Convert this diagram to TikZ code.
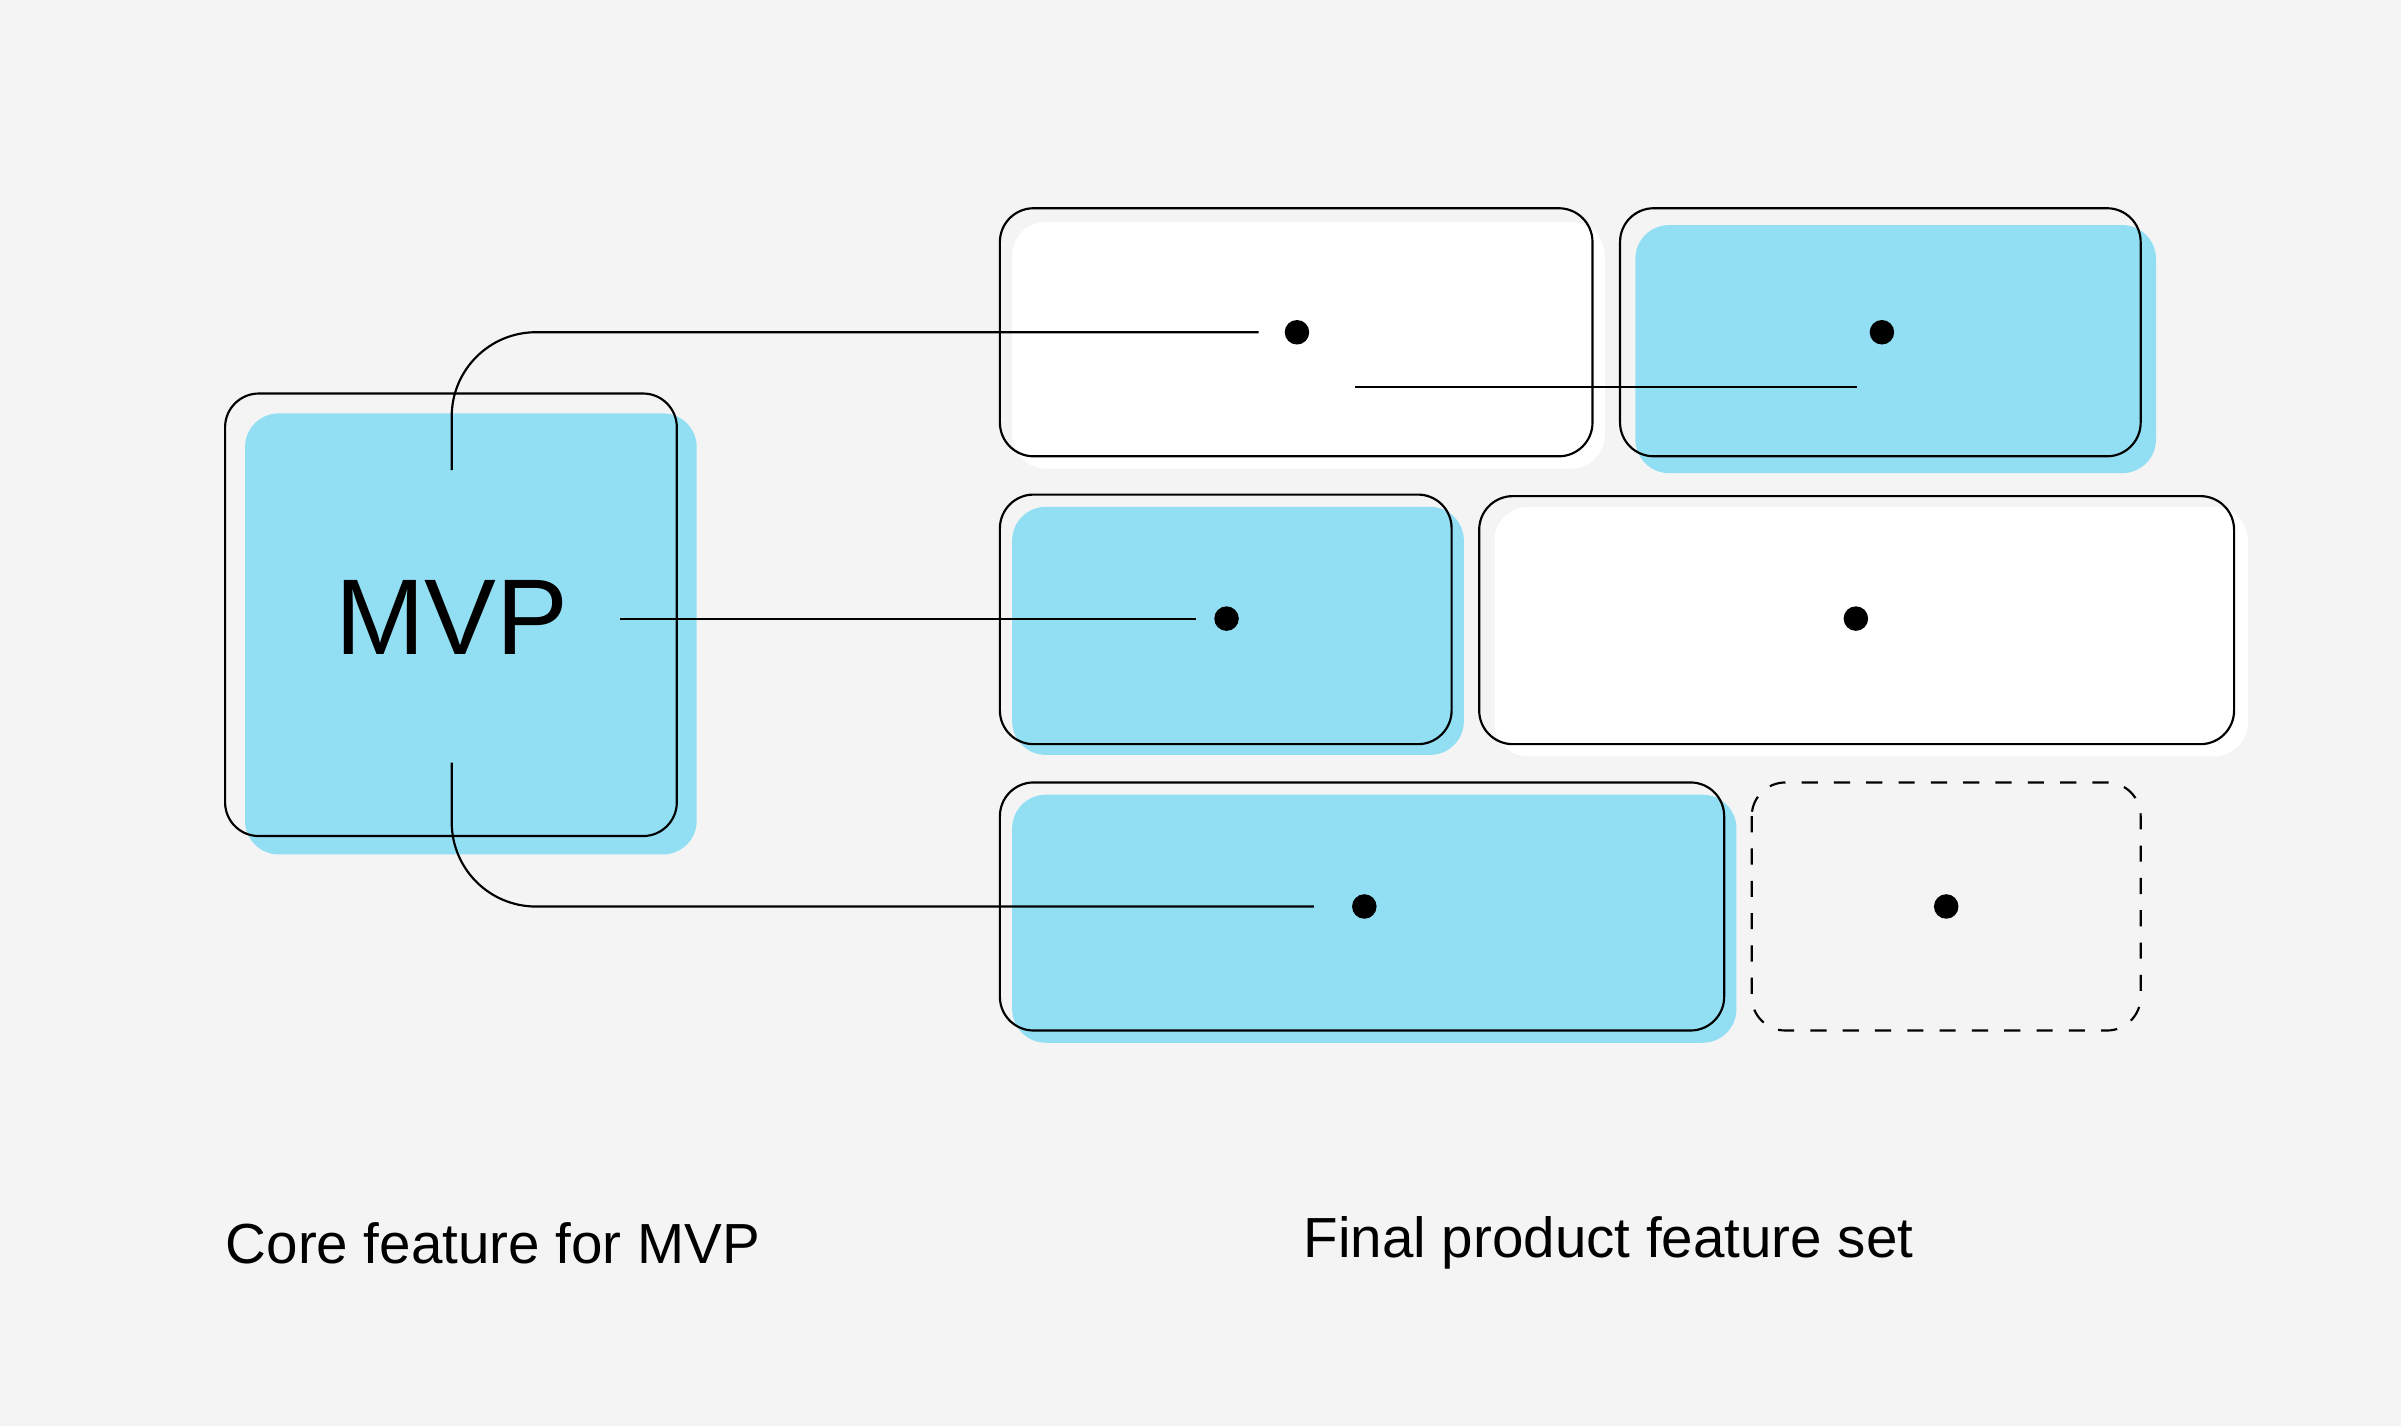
\documentclass[tikz,border=0pt]{standalone}
\usepackage{fontspec}
\setmainfont{Liberation Sans}
\definecolor{bgcol}{HTML}{F4F4F4}
\definecolor{skyblue}{HTML}{92DFF4}
\begin{document}
\begin{tikzpicture}
    [x=0.01cm,y=-0.01cm,
    shade/.style={rounded corners=0.22cm},
    box/.style={draw=black,rounded corners=0.22cm,thin},
    dashbox/.style={box,dashed},
    dot/.style={shape=circle,fill=black,inner sep=0pt,minimum size=0.16cm},
    link/.style={thin},
    caption/.style={anchor=west,font=\fontsize{10.5}{12}\selectfont}]

    \fill [bgcol] (0,0) rectangle (1568,931);
    \useasboundingbox (0,0) rectangle (1568,931);

    % MVP block
    \fill [skyblue,shade] (160,270) rectangle (455,558);
    \draw [box] (147,257) rectangle (442,546);
    \node (mvp) at (295,403) {\fontsize{20}{24}\selectfont MVP};

    % row 1
    \fill [white,shade] (661,145) rectangle (1048,306);
    \draw [box] (653,136) rectangle (1040,298);
    \node (d1) [dot] at (847,217) {};
    \fill [skyblue,shade] (1068,147) rectangle (1408,309);
    \draw [box] (1058,136) rectangle (1398,298);
    \node (d2) [dot] at (1229,217) {};

    % row 2
    \fill [skyblue,shade] (661,331) rectangle (956,493);
    \draw [box] (653,323) rectangle (948,486);
    \node (d3) [dot] at (801,404) {};
    \fill [white,shade] (976,331) rectangle (1468,494);
    \draw [box] (966,324) rectangle (1459,486);
    \node (d4) [dot] at (1212,404) {};

    % row 3
    \fill [skyblue,shade] (661,519) rectangle (1134,681);
    \draw [box] (653,511) rectangle (1126,673);
    \node (d5) [dot] at (891,592) {};
    \draw [dashbox] (1144,511) rectangle (1398,673);
    \node (d6) [dot] at (1271,592) {};

    % links
    \coordinate (top) at (295,307);
    \coordinate (bot) at (295,498);
    \coordinate (mid) at (405,404);
    \coordinate (e1) at (822,217);
    \coordinate (e3) at (781,404);
    \coordinate (e5) at (858,592);
    \coordinate (s2) at (885,253);
    \coordinate (t2) at (1213,253);
    \draw [link] (top) -- (295,272) arc[start angle=180,end angle=90,radius=0.55cm] -- (e1);
    \draw [link] (mid) -- (e3);
    \draw [link] (bot) -- (295,537) arc[start angle=180,end angle=270,radius=0.55cm] -- (e5);
    \draw [link] (s2) -- (t2);

    \node (core) [caption] at (135,812) {Core feature for MVP};
    \node (final) [caption] at (839,812) {Final product feature set};
\end{tikzpicture}
\end{document}
